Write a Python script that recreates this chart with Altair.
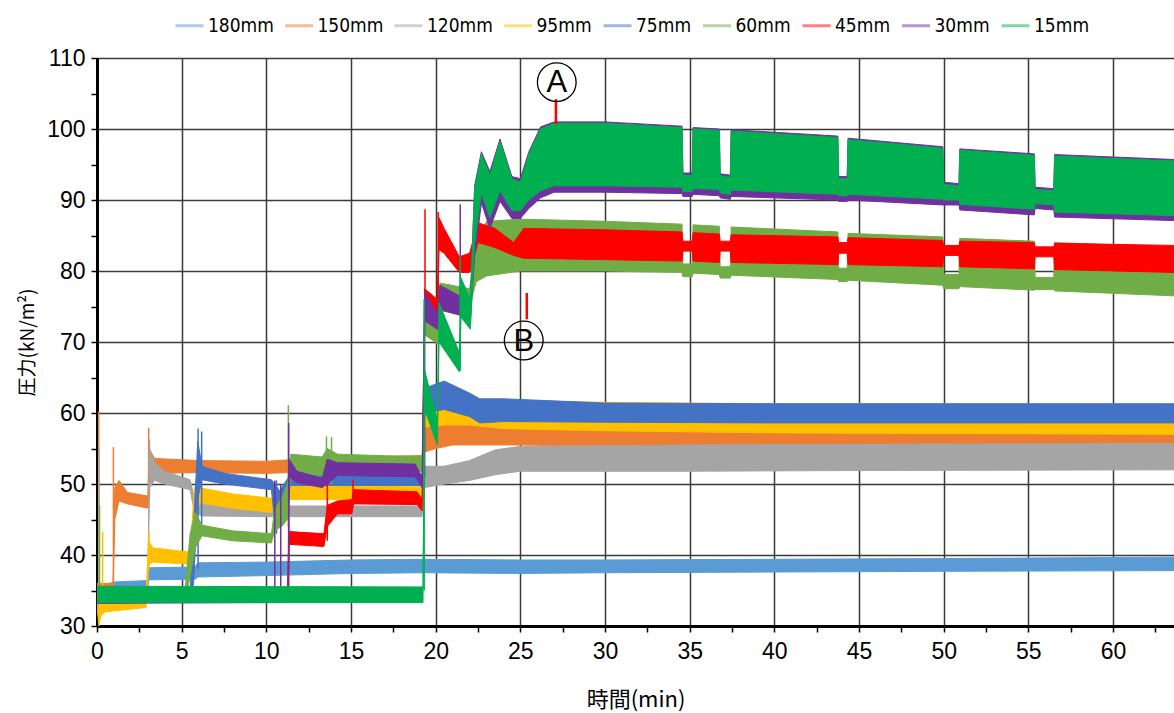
import altair as alt
import pandas as pd

names = ["180mm", "150mm", "120mm", "95mm", "75mm", "60mm", "45mm", "30mm", "15mm"]
colors = ["#5B9BD5", "#ED7D31", "#A5A5A5", "#FFC000", "#4472C4", "#70AD47", "#FF0000", "#7030A0", "#00B050"]

# ---- band envelopes (time [min], lower / upper pressure [kN/m2]) ----
t_180 = [0.0, 0.5, 1.0, 3.0, 3.06, 5.8, 5.95, 10.0, 15.0, 19.3, 25.0, 30.0, 40.0, 50.0, 63.6]
lo_180 = [33.6, 34.4, 35.0, 35.2, 36.5, 36.6, 36.9, 37.1, 37.4, 37.5, 37.4, 37.5, 37.6, 37.7, 37.8]
hi_180 = [35.4, 35.8, 36.2, 36.4, 38.2, 38.3, 38.9, 39.0, 39.3, 39.4, 39.3, 39.3, 39.4, 39.5, 39.7]

t_150 = [0.0, 0.95, 1.05, 1.3, 1.8, 3.0, 3.08, 3.4, 6.0, 10.0, 14.0, 19.2, 19.35, 20.0, 21.0, 25.0, 30.0, 40.0, 50.0, 63.6]
lo_150 = [34.6, 35.0, 45.0, 47.6, 47.2, 46.6, 50.0, 51.5, 51.6, 51.5, 51.8, 52.2, 54.5, 55.0, 55.5, 55.5, 55.3, 55.0, 54.8, 54.8]
hi_150 = [36.0, 36.0, 49.5, 50.5, 48.8, 48.3, 55.0, 53.6, 53.3, 53.2, 53.8, 54.0, 58.3, 58.3, 58.5, 58.3, 58.0, 57.8, 57.6, 57.5]

t_120 = [0.0, 3.0, 3.1, 3.4, 4.0, 5.5, 5.75, 6.2, 10.0, 19.2, 19.35, 20.5, 22.0, 23.5, 25.0, 35.0, 45.0, 63.6]
lo_120 = [33.4, 33.5, 49.5, 50.5, 50.0, 49.2, 46.0, 45.5, 45.4, 45.4, 49.5, 50.0, 50.5, 51.3, 51.8, 51.8, 51.9, 52.0]
hi_120 = [35.2, 35.3, 55.0, 53.0, 51.8, 50.6, 48.0, 47.2, 46.9, 46.9, 52.5, 52.5, 53.3, 54.8, 55.3, 55.5, 55.6, 55.7]

t_95 = [0.0, 0.1, 0.25, 0.5, 2.9, 3.04, 3.3, 5.5, 5.75, 6.2, 8.0, 10.3, 10.7, 11.2, 19.2, 19.35, 20.5, 22.0, 24.0, 30.0, 40.0, 63.6]
lo_95 = [32.8, 30.2, 31.5, 32.0, 32.6, 38.6, 39.0, 38.7, 46.5, 47.3, 46.6, 46.0, 46.5, 47.8, 47.8, 58.0, 58.3, 58.3, 57.8, 57.5, 57.2, 57.0]
hi_95 = [34.5, 32.0, 33.5, 33.4, 34.0, 42.0, 41.0, 40.4, 49.5, 49.4, 48.6, 48.0, 48.8, 49.8, 49.6, 61.5, 61.0, 60.8, 61.8, 61.5, 61.3, 61.2]

t_75 = [0.0, 5.5, 5.7, 5.95, 6.2, 7.5, 10.3, 10.5, 10.8, 11.1, 11.4, 19.2, 19.35, 20.5, 22.0, 22.6, 24.0, 30.0, 40.0, 63.6]
lo_75 = [33.2, 33.4, 36.0, 48.0, 50.6, 50.0, 49.2, 44.5, 45.5, 48.0, 49.8, 49.8, 60.0, 60.5, 59.5, 58.6, 58.8, 58.7, 58.6, 58.6]
hi_75 = [34.6, 34.9, 44.0, 56.0, 52.5, 51.5, 50.6, 50.0, 49.0, 50.2, 51.3, 51.3, 63.5, 64.5, 62.8, 62.0, 62.0, 61.4, 61.3, 61.3]

t_60 = [0.0, 5.2, 5.5, 5.8, 6.2, 8.0, 10.3, 10.5, 10.9, 11.25, 11.45, 13.3, 13.6, 14.2, 19.2, 19.35, 20.1, 20.25,
        22.0, 22.4, 23.0, 25.0, 30.0, 34.55, 34.6, 35.15, 35.2, 36.75, 36.8, 37.4, 37.45, 43.75, 43.8, 44.3, 44.35,
        49.95, 50.0, 50.9, 50.95, 55.35, 55.4, 56.5, 56.55, 63.6]
lo_60 = [33.2, 33.4, 37.0, 41.0, 42.7, 42.0, 41.7, 43.5, 44.0, 45.0, 51.5, 51.2, 50.5, 52.2, 51.8, 71.0, 69.8, 75.5,
         75.2, 78.5, 79.3, 80.0, 80.0, 79.8, 79.2, 79.2, 79.7, 79.5, 79.0, 79.0, 79.4, 78.8, 78.5, 78.5, 78.7,
         78.0, 77.5, 77.5, 77.8, 77.3, 77.4, 77.4, 77.2, 76.5]
hi_60 = [35.0, 35.0, 43.0, 46.0, 44.2, 43.4, 43.0, 46.5, 48.0, 50.0, 54.2, 53.8, 55.0, 54.2, 53.8, 74.5, 72.0, 78.3,
         77.5, 83.0, 87.0, 87.3, 87.0, 86.6, 81.0, 81.0, 86.5, 86.3, 80.6, 80.6, 86.2, 85.5, 80.4, 80.4, 85.3,
         84.8, 79.5, 79.5, 84.6, 84.2, 79.1, 79.1, 84.0, 83.4]

t_45 = [0.0, 11.25, 11.35, 13.4, 13.6, 14.2, 15.05, 15.15, 18.9, 19.2, 19.35, 20.1, 20.2, 20.5, 21.4, 22.0, 22.5,
        23.5, 24.6, 25.2, 30.0, 34.55, 34.6, 35.15, 35.2, 36.75, 36.8, 37.4, 37.45, 43.75, 43.8, 44.3, 44.35,
        49.95, 50.0, 50.9, 50.95, 55.35, 55.4, 56.5, 56.55, 63.6]
lo_45 = [33.3, 33.5, 41.5, 41.2, 44.0, 45.8, 45.8, 47.2, 47.1, 46.2, 74.0, 73.5, 83.0, 82.5, 79.8, 79.8, 84.0,
         83.3, 82.2, 81.8, 81.6, 81.4, 82.8, 82.8, 81.4, 81.2, 82.8, 82.8, 81.2, 80.9, 82.5, 82.5, 80.9,
         80.6, 82.2, 82.2, 80.6, 80.3, 82.0, 82.0, 80.2, 79.8]
hi_45 = [35.0, 35.0, 43.3, 43.0, 47.0, 47.6, 47.8, 49.2, 48.9, 47.8, 77.5, 76.0, 87.5, 86.0, 82.0, 82.5, 86.8,
         86.0, 84.0, 86.0, 85.8, 85.5, 84.2, 84.2, 85.4, 85.2, 84.2, 84.2, 85.1, 84.8, 84.0, 84.0, 84.7,
         84.3, 83.6, 83.6, 84.2, 84.0, 83.4, 83.4, 83.9, 83.6]

t_30 = [0.0, 11.28, 11.35, 11.8, 13.3, 13.6, 14.2, 18.8, 19.2, 19.35, 20.1, 20.25, 21.4, 22.05, 22.3, 22.7, 23.2,
        23.8, 24.5, 25.0, 25.5, 26.2, 27.0, 30.0, 34.55, 34.6, 35.15, 35.2, 36.75, 36.8, 37.4, 37.45, 43.75, 43.8,
        44.3, 44.35, 49.95, 50.0, 50.9, 50.95, 55.35, 55.4, 56.5, 56.55, 63.6]
lo_30 = [33.2, 33.3, 51.0, 50.2, 49.5, 50.0, 51.2, 51.0, 49.5, 73.0, 71.8, 74.5, 73.8, 73.0, 82.0, 89.6, 86.0,
         89.8, 87.4, 87.4, 88.8, 90.3, 91.1, 91.1, 90.9, 90.5, 90.5, 90.8, 90.6, 90.3, 90.1, 90.5, 90.0, 89.8,
         89.8, 90.0, 89.3, 89.3, 89.3, 88.6, 87.9, 88.8, 88.6, 87.6, 87.1]
hi_30 = [34.8, 35.0, 53.5, 51.8, 50.8, 53.5, 53.0, 52.8, 51.0, 77.0, 74.0, 78.0, 76.5, 76.0, 92.0, 96.8, 94.0,
         98.6, 93.3, 93.0, 96.8, 100.3, 101.0, 101.0, 100.4, 93.8, 93.8, 100.2, 100.0, 93.7, 93.5, 99.9, 99.0, 93.3,
         93.3, 98.7, 97.5, 92.5, 92.3, 97.2, 96.5, 91.8, 91.6, 96.4, 95.7]

t_15 = [0.0, 19.25, 19.35, 20.1, 20.2, 21.4, 21.5, 22.05, 22.3, 22.7, 23.2, 23.8, 24.5, 25.0, 25.5, 26.2, 27.0,
        30.0, 34.55, 34.6, 35.15, 35.2, 36.75, 36.8, 37.4, 37.45, 43.75, 43.8, 44.3, 44.35, 49.95, 50.0, 50.9,
        50.95, 55.35, 55.4, 56.5, 56.55, 63.6]
lo_15 = [33.3, 33.3, 60.5, 55.5, 70.0, 65.8, 73.5, 71.8, 84.0, 91.0, 87.5, 91.3, 88.5, 88.5, 90.0, 91.3, 92.0,
         92.0, 91.8, 91.2, 91.2, 91.6, 91.5, 91.0, 90.8, 91.4, 90.8, 90.6, 90.6, 90.8, 90.1, 90.0, 90.0,
         89.4, 88.7, 89.5, 89.3, 88.3, 87.8]
hi_15 = [35.6, 35.5, 66.0, 59.0, 75.5, 68.5, 79.0, 76.0, 91.5, 96.5, 93.5, 98.3, 93.0, 92.5, 96.5, 100.0, 100.8,
         100.8, 100.2, 93.5, 93.5, 100.0, 99.8, 93.4, 93.2, 99.7, 98.8, 93.0, 93.0, 98.5, 97.3, 92.2, 92.0,
         97.0, 96.3, 91.5, 91.3, 96.2, 95.5]

# ---- thin spikes (series, time, from, to) ----
spike_series = ["150mm", "150mm", "150mm", "120mm", "120mm", "95mm", "95mm", "95mm", "75mm", "75mm", "75mm",
                "60mm", "60mm", "60mm", "60mm", "45mm", "45mm", "45mm", "45mm", "45mm",
                "30mm", "30mm", "30mm", "30mm", "30mm", "15mm", "15mm"]
spike_t = [0.1, 0.97, 3.05, 0.12, 3.1, 0.12, 0.33, 3.07, 5.97, 6.18, 10.6, 0.15, 11.3, 13.55, 13.85,
           11.32, 13.6, 15.12, 19.37, 20.15, 10.5, 10.85, 11.32, 19.35, 21.45, 19.32, 21.45]
spike_lo = [35.0, 36.0, 47.0, 34.0, 48.0, 30.0, 33.0, 38.0, 38.0, 44.0, 43.0, 34.0, 44.0, 50.0, 50.0,
            34.0, 42.0, 47.0, 74.0, 75.0, 35.4, 35.6, 38.0, 51.0, 74.0, 35.0, 66.0]
spike_hi = [60.2, 55.2, 57.9, 55.0, 56.3, 34.0, 43.3, 43.3, 57.8, 57.4, 50.5, 47.0, 61.1, 56.7, 56.6,
            44.5, 50.1, 50.6, 88.7, 88.3, 50.5, 50.0, 58.6, 77.0, 89.4, 76.0, 82.0]

# ---- annotations ----
ann_labels = ["A", "B"]
ann_t = [27.15, 25.2]
ann_v = [106.6, 70.2]
mark_t = [27.1, 25.38]
mark_v1 = [104.2, 76.9]
mark_v2 = [100.7, 73.2]

band_lists = {
    "180mm": (t_180, lo_180, hi_180), "150mm": (t_150, lo_150, hi_150), "120mm": (t_120, lo_120, hi_120),
    "95mm": (t_95, lo_95, hi_95), "75mm": (t_75, lo_75, hi_75), "60mm": (t_60, lo_60, hi_60),
    "45mm": (t_45, lo_45, hi_45), "30mm": (t_30, lo_30, hi_30), "15mm": (t_15, lo_15, hi_15),
}

spikes = pd.DataFrame({"series": spike_series, "t": spike_t, "lo": spike_lo, "hi": spike_hi})
ann = pd.DataFrame({"label": ann_labels, "t": ann_t, "lo": ann_v})
marks = pd.DataFrame({"t": mark_t, "lo": mark_v1, "hi": mark_v2})

FONT = "Liberation Sans, Arial, sans-serif"
JFONT = "Noto Sans CJK JP"

x_scale = alt.Scale(domain=[0, 63.6], nice=False, zero=False)
y_scale = alt.Scale(domain=[30, 110], nice=False, zero=False)
color_scale = alt.Scale(domain=names, range=colors)

x_axis = alt.Axis(
    values=[i * 2.5 for i in range(26)],
    labelExpr="datum.value % 5 === 0 ? datum.label : ''",
    gridOpacity={"condition": {"test": "datum.value % 5 === 0", "value": 1}, "value": 0},
    title="時間(min)", titleFont=JFONT, titleFontSize=22, titlePadding=26,
    labelPadding=8, labelFlush=False, labelOverlap=False,
)
y_axis = alt.Axis(
    values=[30 + i * 5 for i in range(17)],
    labelExpr="datum.value % 10 === 0 ? datum.label : ''",
    gridOpacity={"condition": {"test": "datum.value % 10 === 0", "value": 1}, "value": 0},
    title="圧力(kN/m²)", titleFont=JFONT, titleFontSize=19, titlePadding=9,
    labelPadding=6, labelFlush=False, labelOverlap=False,
)

X = alt.X("t:Q", scale=x_scale, axis=x_axis)
Y = alt.Y("lo:Q", scale=y_scale, axis=y_axis)

legend = alt.Legend(
    orient="none", legendX=77, legendY=-48, direction="horizontal", title=None,
    symbolType="stroke", symbolSize=784, symbolStrokeWidth=3, symbolOpacity=0.5,
    labelFont="Liberation Sans Narrow, DejaVu Sans Condensed, sans-serif", labelFontSize=19,
    labelColor="black", labelOffset=3, columnPadding=4.5, padding=0,
)

layers = []
for name, col in zip(names, colors):
    t, lo, hi = band_lists[name]
    df = pd.DataFrame({"t": t, "lo": lo, "hi": hi})
    layers.append(
        alt.Chart(df).mark_area(color=col, stroke=col, strokeWidth=1, interpolate="linear", clip=True)
        .encode(x=X, y=Y, y2="hi:Q")
    )
    layers.append(
        alt.Chart(spikes).transform_filter(alt.datum.series == name)
        .mark_rule(strokeWidth=1.5, clip=True)
        .encode(x=X, y=Y, y2="hi:Q", color=alt.Color("series:N", scale=color_scale, legend=legend))
    )

layers.append(
    alt.Chart(marks).mark_rule(color="#FF0000", strokeWidth=2.5).encode(x=X, y=Y, y2="hi:Q")
)
layers.append(
    alt.Chart(ann).mark_point(shape="circle", size=1500, filled=False, stroke="black", strokeWidth=1.3, opacity=1)
    .encode(x=X, y=Y)
)
layers.append(
    alt.Chart(ann).mark_text(font=FONT, fontSize=31, color="black", baseline="middle", align="center", dy=1)
    .encode(x=X, y=Y, text="label:N")
)

chart = alt.layer(*layers).properties(
    width=1077, height=568,
    padding={"left": 97, "top": 58, "right": 0, "bottom": 87},
    autosize=alt.AutoSizeParams(type="none"),
    background="white",
).configure_axis(
    domainColor="black", domainWidth=3, tickColor="black", tickWidth=1.5, tickSize=6,
    gridColor="#3a3a3a", gridWidth=1.5, labelFont=FONT, labelFontSize=23, labelColor="black",
    titleColor="black", titleFontWeight="normal",
).configure_view(stroke=None)

chart.save("out.html", embed_options={"renderer": "svg", "actions": False})
